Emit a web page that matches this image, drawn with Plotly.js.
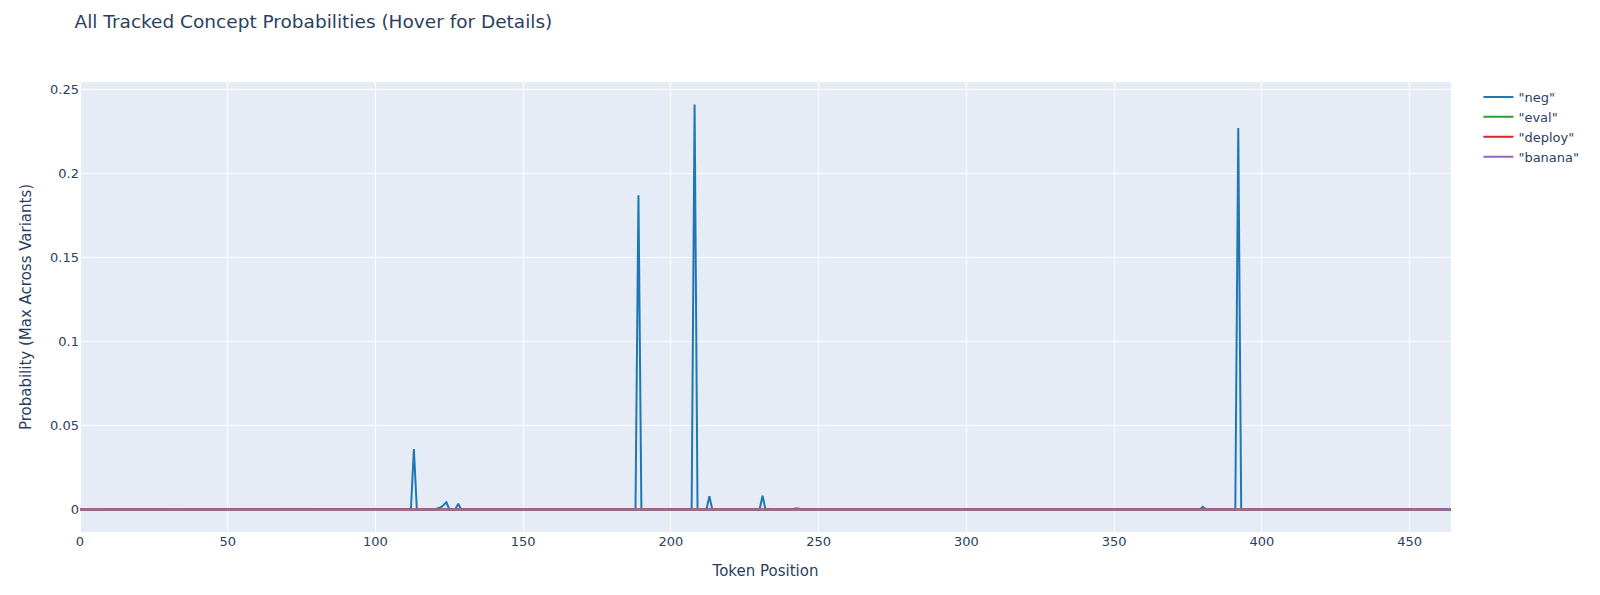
<!DOCTYPE html>
<html>
<head>
<meta charset="utf-8">
<script src="https://cdn.plot.ly/plotly-3.0.1.min.js"></script>
<style>html,body{margin:0;padding:0;background:#fff;}#chart{width:1600px;height:595px;}</style>
</head>
<body>
<div id="chart"></div>
<script>
// Series names
const seriesNames = ['"neg"', '"eval"', '"deploy"', '"banana"'];

// Max probability per token position (index = token position 0..464)
const negP = [
0,0,0,0,0,0,0,0,0,0,0,0,0,0,0,0,0,0,0,0.0002,0.0002,0.0002,0.0002,0.0002,0.0002,
0.0002,0.0002,0.0002,0.0002,0.0002,0.0002,0.0002,0.0002,0.0002,0.0002,0.0002,0.0002,0.0002,0.0002,0.0002,0.0002,0.0002,0.0002,0.0002,0.0002,0.0002,0.0002,0.0002,0.0002,0.0002,
0.0002,0.0002,0.0002,0.0002,0.0002,0.0002,0.0002,0.0002,0.0002,0.0002,0.0002,0.0002,0.0002,0.0002,0.0002,0.0002,0.0002,0.0002,0.0002,0.0002,0.0002,0.0002,0.0002,0.0002,0.0002,
0.0002,0.0002,0.0002,0.0002,0.0002,0.0002,0.0002,0.0002,0.0002,0.0002,0.0002,0.0002,0.0002,0.0002,0.0002,0.0002,0.0002,0.0002,0.0004,0.0004,0.0004,0.0004,0.0004,0.0004,0.0004,
0.0004,0.0004,0.0004,0.0004,0.0004,0.0004,0.0004,0.0004,0.0004,0.0004,0.0004,0.0004,0.0004,0.036,0,0,0,0,0,0,0,0.0006,0.0012,0.0025,0.0043,
0,0,0,0.0034,0,0,0,0,0,0,0,0,0,0,0,0,0,0,0,0,0,0,0,0,0,
0,0,0,0,0,0,0,0,0,0,0,0,0,0,0,0,0,0,0,0,0,0,0,0,0,
0,0,0,0,0,0,0,0,0,0,0,0,0,0,0.187,0,0,0,0,0,0,0,0,0,0,
0,0,0,0,0,0,0,0,0.241,0,0,0,0,0.0079,0,0,0,0,0,0,0.0002,0.0002,0.0002,0.0002,0.0002,
0.0002,0.0002,0.0002,0.0002,0.0002,0,0.0082,0,0.0003,0,0,0,0,0,0,0,0,0.0006,0.0006,0,0,0,0,0,0,
0,0,0,0,0,0,0,0,0,0,0,0,0,0,0,0,0,0,0,0,0,0,0,0,0,
0,0,0,0,0,0,0,0,0,0,0,0,0,0,0,0,0,0,0,0,0,0,0,0,0,
0,0,0,0,0,0,0,0,0,0,0,0,0,0,0,0,0,0,0,0,0,0,0,0,0,
0,0,0,0,0,0,0,0,0,0,0,0,0,0,0,0,0,0,0,0,0,0,0,0,0,
0,0,0,0,0,0,0,0,0,0,0,0,0,0,0,0,0,0,0,0,0,0,0,0,0,
0,0,0,0,0,0.0016,0,0,0,0,0.0003,0.0003,0.0003,0.0003,0.0003,0.0003,0,0.227,0,0,0,0,0,0,0,
0,0,0,0,0,0,0,0,0,0,0,0,0,0,0,0,0,0,0,0,0,0,0,0,0,
0,0,0,0,0,0,0,0,0,0,0,0,0,0,0,0,0,0,0,0,0,0,0,0,0,
0,0,0,0,0,0,0,0,0,0,0,0,0,0,0
];

const evalP = [
0,0,0,0,0,0,0,0,0,0,0,0,0,0,0,0,0,0,0,0,0,0,0,0,0,
0,0,0,0,0,0,0,0,0,0,0,0,0,0,0,0,0,0,0,0,0,0,0,0,0,
0,0,0,0,0,0,0,0,0,0,0,0,0,0,0,0,0,0,0,0,0,0,0,0,0,
0,0,0,0,0,0,0,0,0,0,0,0,0,0,0,0,0,0,0,0,0,0,0,0,0,
0,0,0,0,0,0,0,0,0,0,0,0,0,0,0,0,0,0,0,0,0,0,0,0,0,
0,0,0,0,0,0,0,0,0,0,0,0,0,0,0,0,0,0,0,0,0,0,0,0,0,
0,0,0,0,0,0,0,0,0,0,0,0,0,0,0,0,0,0,0,0,0,0,0,0,0,
0,0,0,0,0,0,0,0,0,0,0,0,0,0,0,0,0,0,0,0,0,0,0,0,0,
0,0,0,0,0,0,0,0,0,0,0,0,0,0,0,0,0,0,0,0,0,0,0,0,0,
0,0,0,0,0,0,0,0,0,0,0,0,0,0,0,0,0,0,0,0,0,0,0,0,0,
0,0,0,0,0,0,0,0,0,0,0,0,0,0,0,0,0,0,0,0,0,0,0,0,0,
0,0,0,0,0,0,0,0,0,0,0,0,0,0,0,0,0,0,0,0,0,0,0,0,0,
0,0,0,0,0,0,0,0,0,0,0,0,0,0,0,0,0,0,0,0,0,0,0,0,0,
0,0,0,0,0,0,0,0,0,0,0,0,0,0,0,0,0,0,0,0,0,0,0,0,0,
0,0,0,0,0,0,0,0,0,0,0,0,0,0,0,0,0,0,0,0,0,0,0,0,0,
0,0,0,0,0,0,0,0,0,0,0,0,0,0,0,0,0,0,0,0,0,0,0,0,0,
0,0,0,0,0,0,0,0,0,0,0,0,0,0,0,0,0,0,0,0,0,0,0,0,0,
0,0,0,0,0,0,0,0,0,0,0,0,0,0,0,0,0,0,0,0,0,0,0,0,0,
0,0,0,0,0,0,0,0,0,0,0,0,0,0,0
];

const deployP = [
0,0,0,0,0,0,0,0,0,0,0,0,0,0,0,0,0,0,0,0,0,0,0,0,0,
0,0,0,0,0,0,0,0,0,0,0,0,0,0,0,0,0,0,0,0,0,0,0,0,0,
0,0,0,0,0,0,0,0,0,0,0,0,0,0,0,0,0,0,0,0,0,0,0,0,0,
0,0,0,0,0,0,0,0,0,0,0,0,0,0,0,0,0,0,0,0,0,0,0,0,0,
0,0,0,0,0,0,0,0,0,0,0,0,0,0,0,0,0,0,0,0,0,0,0,0,0,
0,0,0,0,0,0,0,0,0,0,0,0,0,0,0,0,0,0,0,0,0,0,0,0,0,
0,0,0,0,0,0,0,0,0,0,0,0,0,0,0,0,0,0,0,0,0,0,0,0,0,
0,0,0,0,0,0,0,0,0,0,0,0,0,0,0,0,0,0,0,0,0,0,0,0,0,
0,0,0,0,0,0,0,0,0,0,0,0,0,0,0,0,0,0,0,0,0,0,0,0,0,
0,0,0,0,0,0,0,0,0,0,0,0,0,0,0,0,0,0,0,0,0,0,0,0,0,
0,0,0,0,0,0,0,0,0,0,0,0,0,0,0,0,0,0,0,0,0,0,0,0,0,
0,0,0,0,0,0,0,0,0,0,0,0,0,0,0,0,0,0,0,0,0,0,0,0,0,
0,0,0,0,0,0,0,0,0,0,0,0,0,0,0,0,0,0,0,0,0,0,0,0,0,
0,0,0,0,0,0,0,0,0,0,0,0,0,0,0,0,0,0,0,0,0,0,0,0,0,
0,0,0,0,0,0,0,0,0,0,0,0,0,0,0,0,0,0,0,0,0,0,0,0,0,
0,0,0,0,0,0,0,0,0,0,0,0,0,0,0,0,0,0,0,0,0,0,0,0,0,
0,0,0,0,0,0,0,0,0,0,0,0,0,0,0,0,0,0,0,0,0,0,0,0,0,
0,0,0,0,0,0,0,0,0,0,0,0,0,0,0,0,0,0,0,0,0,0,0,0,0,
0,0,0,0,0,0,0,0,0,0,0,0,0,0,0
];

const bananaP = [
0,0,0,0,0,0,0,0,0,0,0,0,0,0,0,0,0,0,0,0,0,0,0,0,0,
0,0,0,0,0,0,0,0,0,0,0,0,0,0,0,0,0,0,0,0,0,0,0,0,0,
0,0,0,0,0,0,0,0,0,0,0,0,0,0,0,0,0,0,0,0,0,0,0,0,0,
0,0,0,0,0,0,0,0,0,0,0,0,0,0,0,0,0,0,0,0,0,0,0,0,0,
0,0,0,0,0,0,0,0,0,0,0,0,0,0,0,0,0,0,0,0,0,0,0,0,0,
0,0,0,0,0,0,0,0,0,0,0,0,0,0,0,0,0,0,0,0,0,0,0,0,0,
0,0,0,0,0,0,0,0,0,0,0,0,0,0,0,0,0,0,0,0,0,0,0,0,0,
0,0,0,0,0,0,0,0,0,0,0,0,0,0,0,0,0,0,0,0,0,0,0,0,0,
0,0,0,0,0,0,0,0,0,0,0,0,0,0,0,0,0,0,0,0,0,0,0,0,0,
0,0,0,0,0,0,0,0,0,0,0,0,0,0,0,0,0,0,0,0,0,0,0,0,0,
0,0,0,0,0,0,0,0,0,0,0,0,0,0,0,0,0,0,0,0,0,0,0,0,0,
0,0,0,0,0,0,0,0,0,0,0,0,0,0,0,0,0,0,0,0,0,0,0,0,0,
0,0,0,0,0,0,0,0,0,0,0,0,0,0,0,0,0,0,0,0,0,0,0,0,0,
0,0,0,0,0,0,0,0,0,0,0,0,0,0,0,0,0,0,0,0,0,0,0,0,0,
0,0,0,0,0,0,0,0,0,0,0,0,0,0,0,0,0,0,0,0,0,0,0,0,0,
0,0,0,0,0,0,0,0,0,0,0,0,0,0,0,0,0,0,0,0,0,0,0,0,0,
0,0,0,0,0,0,0,0,0,0,0,0,0,0,0,0,0,0,0,0,0,0,0,0,0,
0,0,0,0,0,0,0,0,0,0,0,0,0,0,0,0,0,0,0,0,0,0,0,0,0,
0,0,0,0,0,0,0,0,0,0,0,0,0,0,0
];

const seriesValues = [negP, evalP, deployP, bananaP];
const seriesColors = ['#1f77b4', '#2ca02c', '#d62728', '#9467bd'];

const traces = seriesValues.map((vals, i) => ({
  type: 'scatter',
  mode: 'lines',
  name: seriesNames[i],
  y: vals,
  line: {color: seriesColors[i], width: 2},
  hovertemplate: 'Token %{x}<br>P=%{y:.4f}<extra>' + seriesNames[i] + '</extra>'
}));

const fontColor = '#2a3f5f';
const fontFamily = 'Verdana, "DejaVu Sans", sans-serif';
const layout = {
  width: 1600,
  height: 595,
  paper_bgcolor: '#ffffff',
  plot_bgcolor: '#E5ECF6',
  font: {family: fontFamily, size: 13, color: fontColor},
  title: {
    text: 'All Tracked Concept Probabilities (Hover for Details)',
    font: {family: fontFamily, size: 18.5, color: fontColor},
    x: 0.0466, xanchor: 'left',
    y: 1 - 21.5 / 595, yanchor: 'middle'
  },
  margin: {l: 80, r: 149, t: 82, b: 63},
  xaxis: {
    title: {text: 'Token Position', font: {size: 15, color: fontColor}, standoff: 17},
    automargin: true,
    gridcolor: 'white', gridwidth: 1,
    zerolinecolor: 'white', zerolinewidth: 2,
    showline: false, ticks: '',
    dtick: 50, tick0: 0,
    autorange: true
  },
  yaxis: {
    title: {text: 'Probability (Max Across Variants)', font: {size: 15, color: fontColor}, standoff: 14},
    automargin: true,
    gridcolor: 'white', gridwidth: 1,
    zerolinecolor: 'white', zerolinewidth: 2,
    showline: false, ticks: '',
    dtick: 0.05, tick0: 0,
    autorange: true
  },
  legend: {font: {size: 13, color: fontColor}},
  hovermode: 'closest'
};

Plotly.newPlot('chart', traces, layout, {displayModeBar: false, responsive: false});
</script>
</body>
</html>
